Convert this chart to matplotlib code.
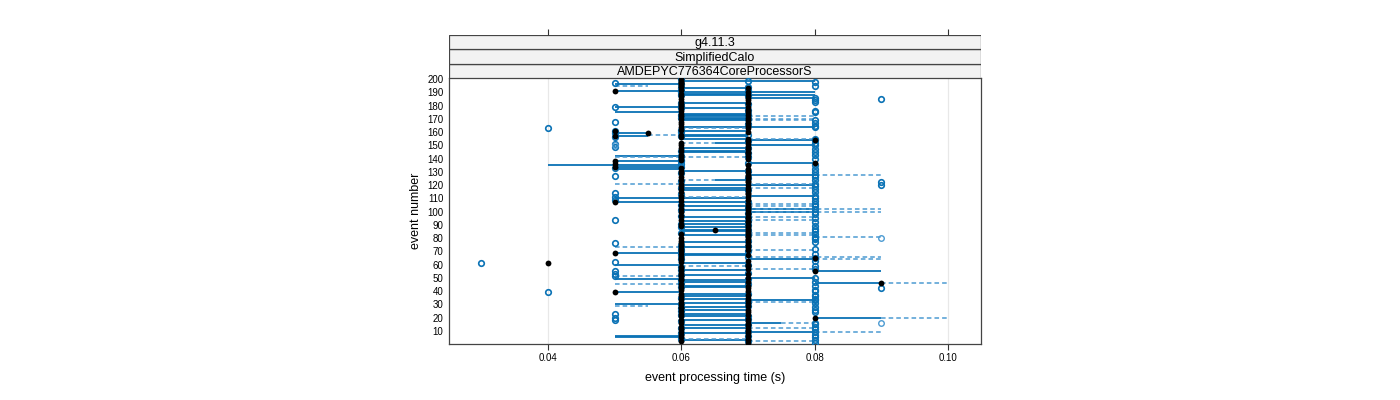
import numpy as np
import matplotlib.pyplot as plt
from matplotlib.patches import Rectangle

plt.rcParams['font.family'] = ['Liberation Sans', 'DejaVu Sans']

# event numbers 1..200, times in units of 0.01 s
events = np.arange(1, 201)

black_cs = [7, 6, 7, 7, 6, 7, 6, 7, 6, 7,
            6, 7, 6, 7, 7, 6, 7, 6, 7, 8,
            6, 7, 6, 7, 6, 7, 6, 6, 7, 6,
            7, 6, 7, 6, 7, 6, 7, 6, 5, 7,
            6, 7, 6, 7, 6, 9, 7, 6, 6, 7,
            6, 6, 7, 6, 8, 6, 7, 6, 7, 7,
            4, 6, 7, 6, 8, 6, 7, 6, 5, 6,
            7, 6, 7, 6, 7, 6, 7, 6, 7, 6,
            7, 7, 6, 7, 7, 6.5, 7, 7, 6, 7,
            6, 7, 7, 6, 7, 7, 6, 7, 7, 6,
            7, 6, 7, 7, 6, 7, 5, 6, 7, 6,
            7, 6, 7, 7, 6, 7, 6, 7, 6, 7,
            6, 7, 7, 6, 7, 6, 7, 7, 6, 7,
            6, 7, 6, 5, 7, 5, 8, 5, 6, 7,
            6, 7, 6, 7, 7, 6, 7, 6, 7, 6,
            7, 6, 7, 8, 7, 6, 5, 6, 5.5, 7,
            5, 6, 7, 6, 7, 6, 7, 6, 7, 6,
            7, 6, 7, 6, 7, 6, 7, 6, 7, 6,
            6, 7, 6, 7, 6, 7, 6, 7, 6, 7,
            5, 6, 7, 6, 6, 6, 6, 6, 6, 6]

blue_cs = [8, 7, 8, 6, 8, 7, 8, 6, 8, 7,
           8, 6, 8, 7, 8, 8, 6, 5, 7, 5,
           7, 6, 5, 8, 6, 8, 6, 8, 7, 6,
           8, 7, 8, 8, 6, 8, 8, 7, 4, 8,
           8, 9, 6, 8, 7, 6, 8, 6, 7, 8,
           5, 6, 5, 7, 5, 6, 8, 6, 8, 7,
           3, 5, 8, 6, 8, 7, 6, 8, 6, 7,
           6, 8, 6, 7, 6, 5, 8, 7, 8, 8,
           8, 7, 8, 6, 8, 7, 8, 6, 8, 7,
           6, 8, 7, 5, 8, 7, 6, 8, 7, 8,
           6, 8, 7, 8, 6, 8, 7, 8, 5, 8,
           5, 8, 6, 5, 8, 7, 8, 6, 8, 9,
           8, 9, 6, 8, 7, 8, 5, 8, 6, 8,
           7, 8, 5, 6, 8, 6, 7, 6, 6, 8,
           7, 6, 8, 7, 8, 6, 8, 7, 5, 8,
           5, 8, 7, 8, 8, 5, 6, 7, 5, 6,
           5, 6, 4, 8, 8, 7, 8, 5, 8, 7,
           6, 7, 6, 7, 8, 8, 7, 6, 5, 6,
           7, 6, 8, 8, 9, 8, 7, 6, 7, 6,
           6, 7, 6, 7, 8, 6, 5, 8, 7, 6]

light_ev = [16, 80, 150]
light_cs = [9, 9, 5]

# (event, from, to) in 0.01 s
solid_seg = [(3, 6, 7), (5, 5, 6), (6, 5, 6), (8, 6, 7), (9, 7, 8), (12, 6, 7), (14, 6, 7),
             (16, 7, 7.5), (18, 6, 7), (20, 8, 9), (21, 6, 7), (23, 6, 7), (26, 6, 7),
             (28, 6, 7), (30, 5, 6), (31, 6, 7), (33, 7, 8), (34, 6, 7), (36, 6, 7),
             (38, 6, 7), (39, 5, 6), (43, 6, 7), (44, 6, 7), (46, 8, 9), (47, 6, 7),
             (48, 6, 7), (49, 5, 6), (50, 7, 8), (52, 6, 7), (55, 8, 9), (56, 6, 7),
             (60, 5, 6), (61, 6, 7), (64, 7, 8), (67, 6, 7), (68, 6, 7), (69, 5, 6),
             (73, 6, 7), (77, 6, 7), (82, 6, 7), (85, 6, 7), (86, 6, 7), (88, 6, 7),
             (91, 6, 7), (93, 6, 7), (96, 6, 7), (100, 7, 8), (101, 6, 7), (102, 7, 8),
             (104, 6, 7), (107, 5, 6), (107, 6, 7), (110, 5, 6), (110, 6, 7), (112, 7, 8),
             (116, 6, 7), (118, 6, 7), (120, 6, 7), (120, 7, 8), (124, 6.5, 7), (128, 7, 8),
             (131, 6, 7), (132, 5, 6), (134, 5, 6), (135, 4, 6), (137, 7, 8), (138, 5, 6),
             (142, 5, 6), (145, 6, 7), (146, 6, 7), (148, 6, 7), (150, 7, 8),
             (152, 6.5, 7), (154, 7, 8), (155, 6, 7), (157, 5, 5.5), (157, 6, 7),
             (158, 6, 7), (159, 5, 5.5), (161, 6, 7), (164, 6, 8), (169, 6, 7),
             (170, 6, 7), (171, 6, 7), (172, 6, 7), (173, 6, 7), (174, 6, 7), (175, 5, 6),
             (178, 6, 7), (179, 5, 6), (182, 6, 7), (186, 7, 8), (188, 6, 8), (189, 6, 7),
             (190, 6, 8), (191, 5, 6), (193, 6, 7), (196, 5, 6), (199, 6, 8)]

dashed_seg = [(2, 7, 8), (4, 6, 7), (9, 8, 9), (12, 7, 8), (16, 7.5, 8), (20, 9, 10),
              (29, 5, 5.5), (32, 7, 8), (45, 5, 6), (46, 9, 10), (51, 5, 6), (57, 7, 8),
              (59, 6, 7), (64, 8, 9), (66, 7, 9), (71, 7, 8), (73, 5, 6), (81, 8, 9),
              (82, 7, 8), (84, 7, 8), (94, 7, 8), (96, 7, 8), (100, 7, 9), (102, 7, 9),
              (104, 7, 8), (106, 7, 8), (111, 6, 7), (118, 7, 8), (121, 5, 6), (121, 7, 8),
              (124, 6, 6.5), (128, 8, 9), (141, 5, 6), (141, 6, 7), (152, 6, 6.5),
              (155, 7, 8), (158, 5.5, 6), (163, 6, 7), (169, 7, 8), (170, 7, 8),
              (172, 7, 8), (195, 5, 5.5)]

strip_labels = ['AMDEPYC776364CoreProcessorS', 'SimplifiedCalo', 'g4.11.3']  # bottom to top
xticks = [0.04, 0.06, 0.08, 0.10]
xticklabels = ['0.04', '0.06', '0.08', '0.10']
yticks = list(range(10, 201, 10))

blue = '#0a72b5'
light = '#4d9bd2'
xlim = (0.02517, 0.10487)

fig = plt.figure(figsize=(14, 4), dpi=100)
ax = fig.add_axes([449 / 1400, 56 / 400, 531.5 / 1400, 266 / 400])

for x in xticks:
    ax.axvline(x, color='#e8e8e8', lw=0.9, zorder=0)

s = np.array(solid_seg, dtype=float)
d = np.array(dashed_seg, dtype=float)
ax.hlines(s[:, 0], s[:, 1] / 100, s[:, 2] / 100, colors=blue, lw=1.3, zorder=2)
ax.hlines(d[:, 0], d[:, 1] / 100, d[:, 2] / 100, colors=light, lw=1.1,
          linestyles=(0, (3, 2)), zorder=2)

ax.plot(np.array(blue_cs) / 100, events, 'o', mfc='none', mec=blue, ms=4.0, mew=1.2, zorder=3)
ax.plot(np.array(light_cs) / 100, light_ev, 'o', mfc='none', mec=light, ms=4.0, mew=1.0, zorder=3)
ax.plot(np.array(black_cs) / 100, events, 'o', color='black', ms=4.2, mew=0, zorder=4)

ax.set_xlim(*xlim)
ax.set_ylim(0, 200.9)
ax.set_xticks(xticks)
ax.set_xticklabels(xticklabels)
ax.set_yticks(yticks)
ax.tick_params(axis='x', direction='out', length=4.3, width=0.8, pad=2, labelsize=7, color='#333333')
ax.tick_params(axis='y', length=0, pad=4, labelsize=7)
for sp in ax.spines.values():
    sp.set_color('#444444')
    sp.set_linewidth(0.9)
ax.set_xlabel('event processing time (s)', fontsize=9, labelpad=7)
ax.set_ylabel('event number', fontsize=9, labelpad=4)

# strips on top of the panel
sax = fig.add_axes([449 / 1400, 1 - 78 / 400, 531.5 / 1400, 43 / 400])
sax.set_xlim(*xlim)
sax.set_ylim(0, 3)
for i, lab in enumerate(strip_labels):
    sax.add_patch(Rectangle((xlim[0], i), xlim[1] - xlim[0], 1, facecolor='#f2f2f2',
                            edgecolor='#444444', lw=0.9))
    sax.text(np.mean(xlim), i + 0.42, lab, ha='center', va='center', fontsize=9)
for sp in sax.spines.values():
    sp.set_visible(False)
sax.set_xticks(xticks)
sax.set_yticks([])
sax.tick_params(axis='x', top=True, bottom=False, labeltop=False, labelbottom=False,
                direction='out', length=4.3, width=0.8, color='#333333')

fig.savefig('out.png', dpi=100)
